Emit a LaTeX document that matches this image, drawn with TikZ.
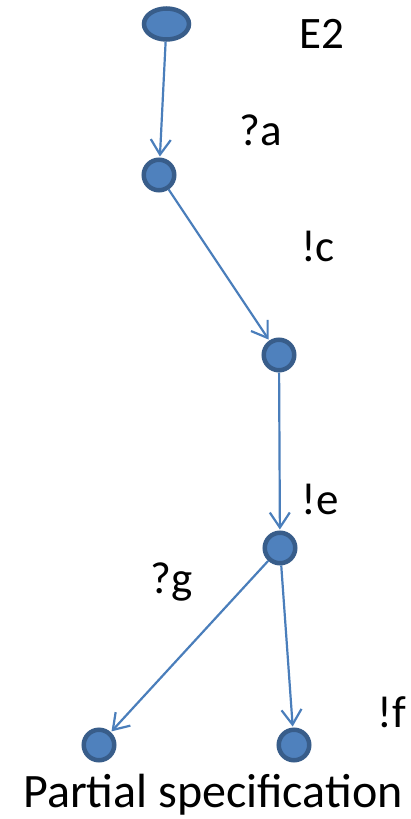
\documentclass[tikz,border=0pt]{standalone}
\usepackage{fontspec}
\setmainfont{Carlito}
\usetikzlibrary{arrows.meta,shapes.geometric}
\definecolor{nfill}{HTML}{4F81BD}
\definecolor{nline}{HTML}{385D8A}
\definecolor{eline}{HTML}{4A7EBB}
\begin{document}
\begin{tikzpicture}[x=1pt,y=-1pt,
  st/.style={circle,draw=nline,fill=nfill,line width=4.5pt,minimum size=30.5pt,inner sep=0pt},
  tr/.style={draw=eline,line width=2.2pt,-{Straight Barb[length=15pt,width=20pt,line width=2.2pt]}, shorten >=1pt},
  lab/.style={font=\fontsize{45}{50}\selectfont,inner sep=0pt,anchor=center}]
\useasboundingbox (0,0) rectangle (411,819);
\node[ellipse,draw=nline,fill=nfill,line width=4.5pt,minimum width=45pt,minimum height=31pt,inner sep=0pt] (s0) at (166.5,24) {};
\node[st] (s1) at (159,175) {};
\node[st] (s2) at (279,355) {};
\node[st] (s3) at (280,548) {};
\node[st] (s4) at (99,745) {};
\node[st] (s5) at (294,745) {};
\draw[tr] (s0) -- (s1);
\draw[tr] (s1) -- (s2);
\draw[tr] (s2) -- (s3);
\draw[tr] (s3) -- (s4);
\draw[tr] (s3) -- (s5);
\node[lab] (l0) at (322,34) {E2};
\node[lab] (l1) at (261,130) {?a};
\node[lab] (l2) at (318,246) {!c};
\node[lab] (l3) at (320,499) {!e};
\node[lab] (l4) at (172,582) {?g};
\node[lab] (l5) at (392,712) {!f};
\node[lab,font=\fontsize{48}{52}\selectfont] (cap) at (213,795) {Partial specification};
\end{tikzpicture}
\end{document}
